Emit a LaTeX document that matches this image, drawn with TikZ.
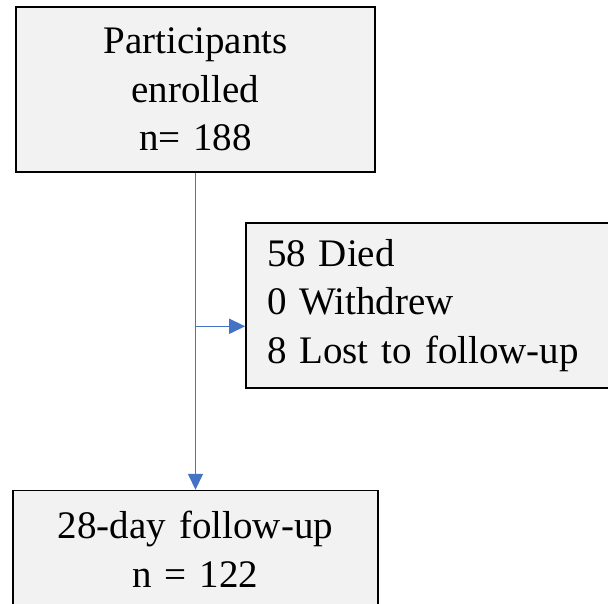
\documentclass[tikz,border=0pt]{standalone}
\usepackage{fontspec}
\setmainfont{Liberation Serif}
\usetikzlibrary{arrows.meta, positioning, calc}
\definecolor{flowblue}{RGB}{68, 114, 196}
\definecolor{boxgray}{RGB}{242, 242, 242}
\tikzset{
  >=Triangle,
  flowarrow/.style={-{Triangle[length=16pt, width=15pt]}, line width=1.5pt, flowblue},
  flowbox/.style={draw=black, line width=1.6pt, fill=boxgray, minimum height=165pt, inner xsep=20pt, font=\fontsize{39}{48.5}\selectfont}
}

\begin{document}
\begin{tikzpicture}[x=1pt, y=1pt]
    \useasboundingbox (0,0) rectangle (608,604);
    \node (enrolled) [flowbox, text width=319pt, align=center] at (195.5,514.5) {Participants\\enrolled\\ n= 188};
    \node (followup) [flowbox, text width=325pt, minimum height=117pt, align=center, below=317pt of enrolled] {28-day follow-up\\n = 122};
    \node (excluded) [flowbox, text width=328pt, inner xsep=21pt, align=left] at (431,298.5) {58 Died\\0 Withdrew\\8 Lost to follow-up};

    \coordinate (split) at ($(enrolled.south)+(0,-153.5)$);
    \draw[flowarrow] (enrolled.south) -- (enrolled.south |- followup.north);
    \draw[flowarrow] (split) -- (split -| excluded.west);
\end{tikzpicture}
\end{document}
